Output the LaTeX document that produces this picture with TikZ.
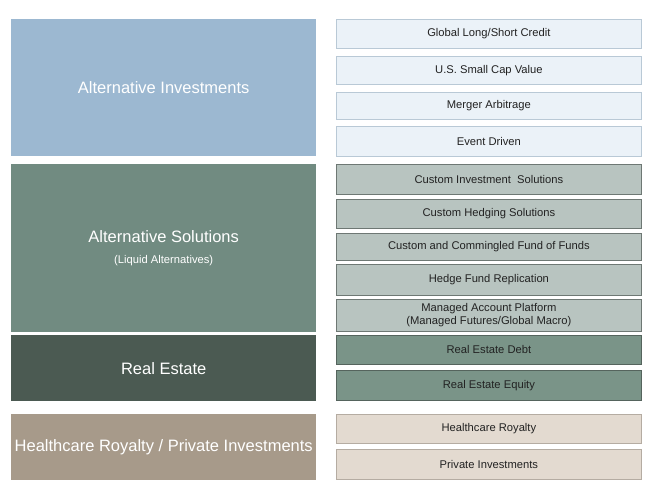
\documentclass[tikz,border=0pt]{standalone}
\usepackage{fontspec}
\setmainfont{Liberation Sans}
\definecolor{cInv}{HTML}{9CB8D1}
\definecolor{cSol}{HTML}{718B81}
\definecolor{cRE}{HTML}{4B5A52}
\definecolor{cHC}{HTML}{A79A8A}
\definecolor{fInv}{HTML}{EBF2F8}
\definecolor{dInv}{HTML}{B9C9D6}
\definecolor{fSol}{HTML}{B8C4C0}
\definecolor{dSol}{HTML}{6E7874}
\definecolor{fRE}{HTML}{7A9488}
\definecolor{dRE}{HTML}{55645D}
\definecolor{fHC}{HTML}{E3DAD0}
\definecolor{dHC}{HTML}{B5ACA2}
\definecolor{txt}{HTML}{222222}
\tikzset{
  bigbox/.style={rectangle, anchor=north west, inner sep=0pt, minimum width=305pt,
    text=white, font=\fontsize{16.5}{19.5}\selectfont, align=center},
  subbox/.style={rectangle, anchor=north west, inner sep=0pt, minimum width=305pt,
    text=txt, font=\fontsize{11.2}{13}\selectfont, align=center, line width=0.8pt},
  invbox/.style={subbox, fill=fInv, draw=dInv},
  solbox/.style={subbox, fill=fSol, draw=dSol},
  rebox/.style={subbox, fill=fRE, draw=dRE},
  hcbox/.style={subbox, fill=fHC, draw=dHC},
}
\begin{document}
\begin{tikzpicture}[x=1pt,y=1pt]
\useasboundingbox[fill=white] (0,0) rectangle (652,-500);
% left column
\node[bigbox, fill=cInv, minimum height=137pt] (ai) at (11,-19) {Alternative Investments};
\node[bigbox, fill=cSol, minimum height=168pt] (as) at (11,-164)
  {Alternative Solutions\\[1pt]{\fontsize{11.2}{13}\selectfont (Liquid Alternatives)}};
\node[bigbox, fill=cRE, minimum height=66pt] (re) at (11,-335) {Real Estate};
\node[bigbox, fill=cHC, minimum height=66pt] (hc) at (11,-414) {Healthcare Royalty / Private Investments};
% right column
\node[invbox, minimum height=29pt] (r1) at (336,-19) {Global Long/Short Credit};
\node[invbox, minimum height=28pt] (r2) at (336,-56) {U.S. Small Cap Value};
\node[invbox, minimum height=27pt] (r3) at (336,-92) {Merger Arbitrage};
\node[invbox, minimum height=30pt] (r4) at (336,-126) {Event Driven};
\node[solbox, minimum height=30pt] (r5) at (336,-164) {Custom Investment\ \ Solutions};
\node[solbox, minimum height=29pt] (r6) at (336,-199) {Custom Hedging Solutions};
\node[solbox, minimum height=27pt] (r7) at (336,-233) {Custom and Commingled Fund of Funds};
\node[solbox, minimum height=31pt] (r8) at (336,-264) {Hedge Fund Replication};
\node[solbox, minimum height=32pt] (r9) at (336,-299) {Managed Account Platform\\(Managed Futures/Global Macro)};
\node[rebox, minimum height=29pt] (r10) at (336,-335) {Real Estate Debt};
\node[rebox, minimum height=30pt] (r11) at (336,-370) {Real Estate Equity};
\node[hcbox, minimum height=29pt] (r12) at (336,-414) {Healthcare Royalty};
\node[hcbox, minimum height=30pt] (r13) at (336,-449) {Private Investments};
\end{tikzpicture}
\end{document}
